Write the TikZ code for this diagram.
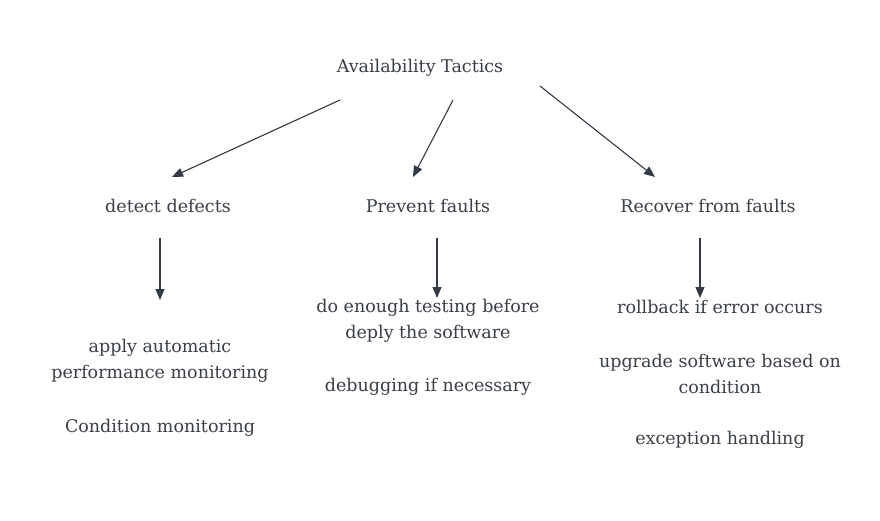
\documentclass[tikz,border=0pt]{standalone}
\usepackage{fontspec}
\setmainfont{DejaVu Serif}
\usetikzlibrary{arrows.meta}
\definecolor{txt}{HTML}{3A3F47}
\definecolor{arr}{HTML}{343A44}
\tikzset{
  lbl/.style={text=txt, font=\fontsize{17.5}{26.5}\selectfont, align=center, inner sep=0pt},
  conn/.style={draw=arr, line width=1.1pt, -{Triangle[length=11pt,width=9pt]}}
}
\begin{document}
\begin{tikzpicture}[x=1pt,y=-1pt]
\useasboundingbox (0,0) rectangle (880,521);
\node[lbl] (root) at (420,68) {Availability Tactics};
\node[lbl] (det) at (168,206) {detect defects};
\node[lbl] (pre) at (428,206) {Prevent faults};
\node[lbl] (rec) at (708,206) {Recover from faults};
\coordinate (r1) at (340,100);
\coordinate (r2) at (453,100);
\coordinate (r3) at (540,86);
\coordinate (d1) at (172,177);
\coordinate (d2) at (413,177);
\coordinate (d3) at (655,177);
\draw[conn] (r1) -- (d1);
\draw[conn] (r2) -- (d2);
\draw[conn] (r3) -- (d3);
\coordinate (s1) at (160,238);
\coordinate (e1) at (160,300);
\coordinate (s2) at (437,238);
\coordinate (e2) at (437,298);
\coordinate (s3) at (700,238);
\coordinate (e3) at (700,298);
\draw[conn] (s1) -- (e1);
\draw[conn] (s2) -- (e2);
\draw[conn] (s3) -- (e3);
\node[lbl] (a1) at (160,361) {apply automatic\\performance monitoring};
\node[lbl] (a2) at (160,428) {Condition monitoring};
\node[lbl] (b1) at (428,321) {do enough testing before\\deply the software};
\node[lbl] (b2) at (428,387) {debugging if necessary};
\node[lbl] (c1) at (720,307) {rollback if error occurs};
\node[lbl] (c2) at (720,374) {upgrade software based on\\condition};
\node[lbl] (c3) at (720,440) {exception handling};
\end{tikzpicture}
\end{document}
